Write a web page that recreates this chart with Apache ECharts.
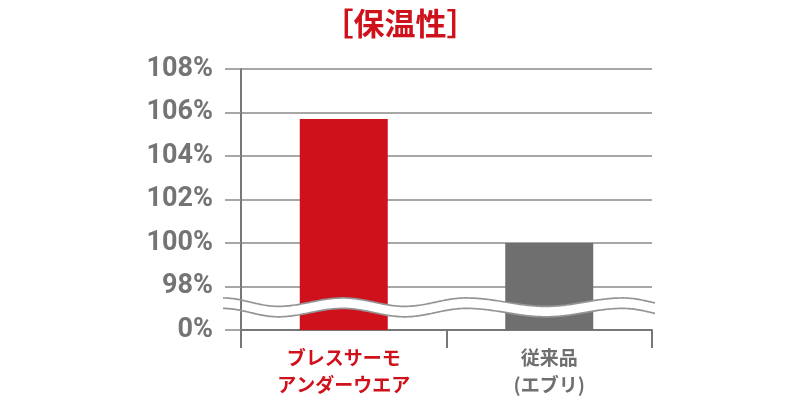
<!DOCTYPE html>
<html>
<head>
<meta charset="utf-8">
<script src="https://cdn.jsdelivr.net/npm/echarts@6/dist/echarts.min.js"></script>
<style>html,body{margin:0;padding:0;background:#fff;}#c{width:800px;height:400px;}</style>
</head>
<body>
<div id="c"></div>
<script>
// Data
const titleText = '［保温性］';
const categories = [['ブレスサーモ', 'アンダーウエア'], ['従来品', '(エブリ)']];
const values = [105.7, 100];           // percent
const tickLabels = ['0%', '98%', '100%', '102%', '104%', '106%', '108%'];
const tickValues = [0, 98, 100, 102, 104, 106, 108];

// broken-axis mapping: 0 -> 0, 98..108 -> 1..6
function toAxis(v) {
  if (v <= 0) return 0;
  return 1 + (v - 98) / 2;
}

const RED = '#cf111c';
const GRAY = '#6f6f6f';

const chart = echarts.init(document.getElementById('c'));

function waveItem(params, api) {
  const cs = params.coordSys;
  const y0 = api.coord([0, 0])[1];
  const y1 = api.coord([0, 1])[1];
  const step = y0 - y1;
  const topC = y0 - step * 0.64;
  const botC = y0 - step * 0.40;
  const amp = 4.2;
  // extremes (px offsets from grid left), alternating crest / trough
  const ext = [-18, 37, 102, 164, 225, 305, 382, 439];
  const xs = ext.map(e => cs.x + e);
  const xStart = cs.x - 18, xEnd = cs.x + cs.width + 4;
  function off(x) {
    for (let i = 0; i < xs.length - 1; i++) {
      if (x >= xs[i] && x <= xs[i + 1]) {
        const t = (x - xs[i]) / (xs[i + 1] - xs[i]);
        const a = (i % 2 === 0) ? -amp : amp;
        const b = -a;
        return a + (b - a) * (1 - Math.cos(Math.PI * t)) / 2;
      }
    }
    return 0;
  }
  const top = [], bot = [], fillTop = [], fillBot = [];
  for (let x = xStart; x <= xEnd + 0.01; x += 1.5) {
    const o = off(x);
    top.push([x, topC + o]);
    bot.push([x, botC + o]);
    if (x > cs.x + 1.5) { fillTop.push([x, topC + o]); fillBot.push([x, botC + o]); }
  }
  const poly = fillTop.concat(fillBot.slice().reverse());
  return {
    type: 'group',
    children: [
      { type: 'polygon', shape: { points: poly }, style: { fill: '#fff', stroke: null } },
      { type: 'polyline', shape: { points: top }, style: { stroke: '#959595', lineWidth: 1.7, fill: null } },
      { type: 'polyline', shape: { points: bot }, style: { stroke: '#959595', lineWidth: 1.7, fill: null } }
    ]
  };
}

chart.setOption({
  animation: false,
  backgroundColor: '#fff',
  title: {
    text: titleText, left: 'center', top: 3,
    textStyle: { color: RED, fontSize: 31, fontWeight: 'bold', fontFamily: 'Noto Sans CJK JP' }
  },
  grid: { left: 241, right: 148, top: 69, bottom: 70, containLabel: false },
  xAxis: {
    type: 'category',
    data: categories.map(c => c.join('\n')),
    axisLine: { lineStyle: { color: '#777', width: 2 } },
    axisTick: { show: true, length: 18, lineStyle: { color: '#777', width: 2 } },
    axisLabel: {
      margin: 14,
      formatter: function (v, i) {
        const k = i === 0 ? 'r' : 'g';
        return v.split('\n').map(s => '{' + k + '|' + s + '}').join('\n');
      },
      rich: {
        r: { color: RED, fontSize: 19, fontWeight: 'bold', fontFamily: 'Noto Sans CJK JP', lineHeight: 27 },
        g: { color: GRAY, fontSize: 19, fontWeight: 'bold', fontFamily: 'Noto Sans CJK JP', lineHeight: 27 }
      }
    }
  },
  yAxis: {
    type: 'value', min: 0, max: 6, interval: 1,
    axisLine: { show: true, lineStyle: { color: '#777', width: 2 } },
    axisTick: { show: true, length: 16, lineStyle: { color: '#8a8a8a', width: 1.5 } },
    splitLine: { show: true, lineStyle: { color: '#8a8a8a', width: 1.5 } },
    axisLabel: {
      margin: 28, color: '#747474', fontSize: 27, fontWeight: 'bold', fontFamily: 'Roboto',
      formatter: function (v) { return tickLabels[Math.round(v)]; }
    }
  },
  series: [
    {
      type: 'bar', barWidth: 88, z: 3,
      data: values.map((v, i) => ({ value: toAxis(v), itemStyle: { color: i === 0 ? RED : GRAY } }))
    },
    {
      type: 'custom', z: 10, silent: true, clip: false,
      renderItem: waveItem, data: [[0, 0]]
    }
  ]
});
</script>
</body>
</html>
